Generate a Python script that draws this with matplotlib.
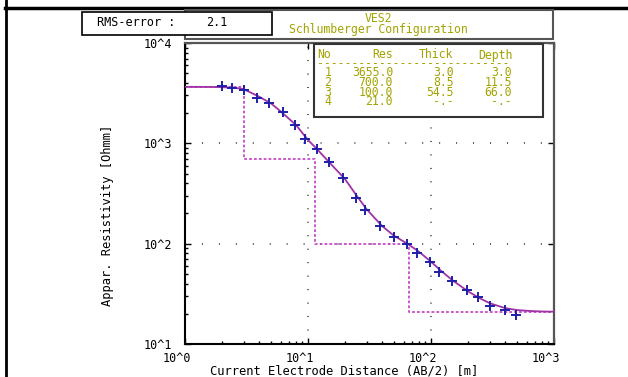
import matplotlib
matplotlib.use("Agg")
import matplotlib.pyplot as plt
from matplotlib.patches import Rectangle
from matplotlib.lines import Line2D
import matplotlib.transforms as mtransforms

plt.rcParams["font.family"] = "DejaVu Sans Mono"
plt.rcParams["lines.scale_dashes"] = False

# field data: AB/2 [m] and apparent resistivity [Ohmm]
ab2 = [2.0, 2.4, 3.0, 3.85, 4.8, 6.3, 7.9, 9.5, 11.8, 14.7, 19.3, 24.7, 29.3,
       38.5, 49.6, 64.4, 77.4, 99, 117, 147, 197, 243, 300, 396, 488]
rho_app = [3715, 3590, 3390, 2850, 2530, 2065, 1538, 1109, 871, 656, 454, 288,
           216, 150, 117, 99, 81, 66, 52.5, 42, 34.5, 29.5, 23.7, 21.6, 19.6]

# fitted model curve
ab2_fit = [1, 1.5, 2, 2.5, 3, 4, 5, 6, 8, 10, 12, 15, 20, 25, 30, 40, 50, 65,
           80, 100, 120, 150, 200, 250, 300, 400, 500, 650, 800, 1000]
rho_fit = [3655, 3650, 3630, 3580, 3470, 2920, 2500, 2080, 1520, 1080, 860, 640,
           440, 298, 220, 150, 120, 99, 83, 66, 54, 43, 33.5, 28.5, 25.5, 22.8,
           21.8, 21.3, 21.1, 21.0]

# layer model
layer_no = ["1", "2", "3", "4"]
layer_res = [3655.0, 700.0, 100.0, 21.0]
layer_thick = [3.0, 8.5, 54.5, None]
layer_depth = [3.0, 11.5, 66.0, None]

x_ticks = [1, 10, 100, 1000]
x_labels = ["10^0", "10^1", "10^2", "10^3"]
y_ticks = [10, 100, 1000, 10000]
y_labels = ["10^1", "10^2", "10^3", "10^4"]

W, H = 628, 377
olive = "#a3a300"


def fx(x):
    return x / W


def fy(y):
    return 1 - y / H


fig = plt.figure(figsize=(W / 100, H / 100), dpi=100)
ax = fig.add_axes([fx(185), fy(344), (554 - 185) / W, (344 - 43) / H])
ax.set_xscale("log")
ax.set_yscale("log")
ax.set_xlim(1, 1000)
ax.set_ylim(10, 10000)

# dotted grid at inner decades
for v in x_ticks[1:-1]:
    ax.axvline(v, color="#333333", lw=1.2, ls=(0, (0.7, 9.0)), zorder=1)
for v in y_ticks[1:-1]:
    ax.axhline(v, color="#333333", lw=1.2, ls=(0, (0.7, 11.5)), zorder=1)

# step model
step_x = [1]
step_y = [layer_res[0]]
for d, r0, r1 in zip(layer_depth[:-1], layer_res[:-1], layer_res[1:]):
    step_x += [d, d]
    step_y += [r0, r1]
step_x.append(1000)
step_y.append(layer_res[-1])
ax.plot(step_x, step_y, color="#c23cc2", lw=1.2, ls=(0, (2.0, 1.5)), zorder=2)

ax.plot(ab2_fit, rho_fit, color="#a032a6", lw=1.3, zorder=3)
ax.plot(ab2, rho_app, ls="none", marker="+", ms=7, mew=1.4, color="#1f1fa8",
        zorder=4)

ax.set_xticks(x_ticks)
ax.set_xticklabels(x_labels)
ax.set_yticks(y_ticks)
ax.set_yticklabels(y_labels)
ax.tick_params(which="major", direction="in", length=4, width=1, top=True,
               right=True, labelsize=8.5, pad=5.5)
ax.tick_params(axis="y", which="major", pad=9)
ax.tick_params(which="minor", direction="in", length=2.3, width=1, top=False,
               right=False)
off = mtransforms.ScaledTranslation(-8 / 100, 0, fig.dpi_scale_trans)
for lbl in ax.get_xticklabels():
    lbl.set_transform(lbl.get_transform() + off)

for s in ["left", "bottom"]:
    ax.spines[s].set_linewidth(1.5)
    ax.spines[s].set_color("black")
for s in ["top", "right"]:
    ax.spines[s].set_linewidth(1.6)
    ax.spines[s].set_color("#555555")

fig.text(fx(344), fy(370.5), "Current Electrode Distance (AB/2) [m]",
         ha="center", va="center", fontsize=8.7)
fig.text(fx(108), fy(215), "Appar. Resistivity [Ohmm]", rotation=90,
         ha="center", va="center", fontsize=8.7)

# outer frame lines
fig.add_artist(Line2D([fx(5), fx(628)], [fy(8), fy(8)], color="black", lw=2.5))
fig.add_artist(Line2D([fx(6), fx(6)], [fy(0), fy(377)], color="black", lw=2))

# header box
fig.add_artist(Rectangle((fx(185), fy(39)), (553 - 185) / W, (39 - 10) / H,
                         facecolor="white", edgecolor="#555555", lw=1.5,
                         zorder=5))
fig.text(fx(378), fy(19), "VES2", ha="center", va="center", fontsize=8.3,
         color=olive, zorder=6)
fig.text(fx(378), fy(29.5), "Schlumberger Configuration", ha="center",
         va="center", fontsize=8.3, color=olive, zorder=6)

# rms box
fig.add_artist(Rectangle((fx(82), fy(35)), (272 - 82) / W, (35 - 12) / H,
                         facecolor="white", edgecolor="black", lw=1.2,
                         zorder=7))
fig.text(fx(97), fy(23), "RMS-error :", ha="left", va="center", fontsize=8.5,
         zorder=8)
fig.text(fx(206), fy(23), "2.1", ha="left", va="center", fontsize=8.5,
         zorder=8)

# layer table
fig.add_artist(Rectangle((fx(314), fy(117)), (543 - 314) / W, (117 - 44) / H,
                         facecolor="white", edgecolor="#333333", lw=1.5,
                         zorder=5))


def fmt(v):
    return "-.-" if v is None else "%.1f" % v


heads = ["No", "Res", "Thick", "Depth"]
head_x = [317, 393, 453, 513]
head_ha = ["left", "right", "right", "right"]
for hx, h, ha in zip(head_x, heads, head_ha):
    fig.text(fx(hx), fy(55), h, ha=ha, va="center", fontsize=8.3,
             color=olive, zorder=6)
fig.text(fx(317), fy(63.5), "-" * 28, ha="left", va="center", fontsize=8.3,
         color=olive, zorder=6)

col_x = [328, 393, 454, 512]
col_ha = ["center", "right", "right", "right"]
row_y = [73, 82.5, 92, 101.5]
for i, ry in enumerate(row_y):
    vals = [layer_no[i], fmt(layer_res[i]), fmt(layer_thick[i]),
            fmt(layer_depth[i])]
    for cx, v, ha in zip(col_x, vals, col_ha):
        fig.text(fx(cx), fy(ry), v, ha=ha, va="center", fontsize=8.3,
                 color=olive, zorder=6)

fig.savefig("out.png", dpi=100)
